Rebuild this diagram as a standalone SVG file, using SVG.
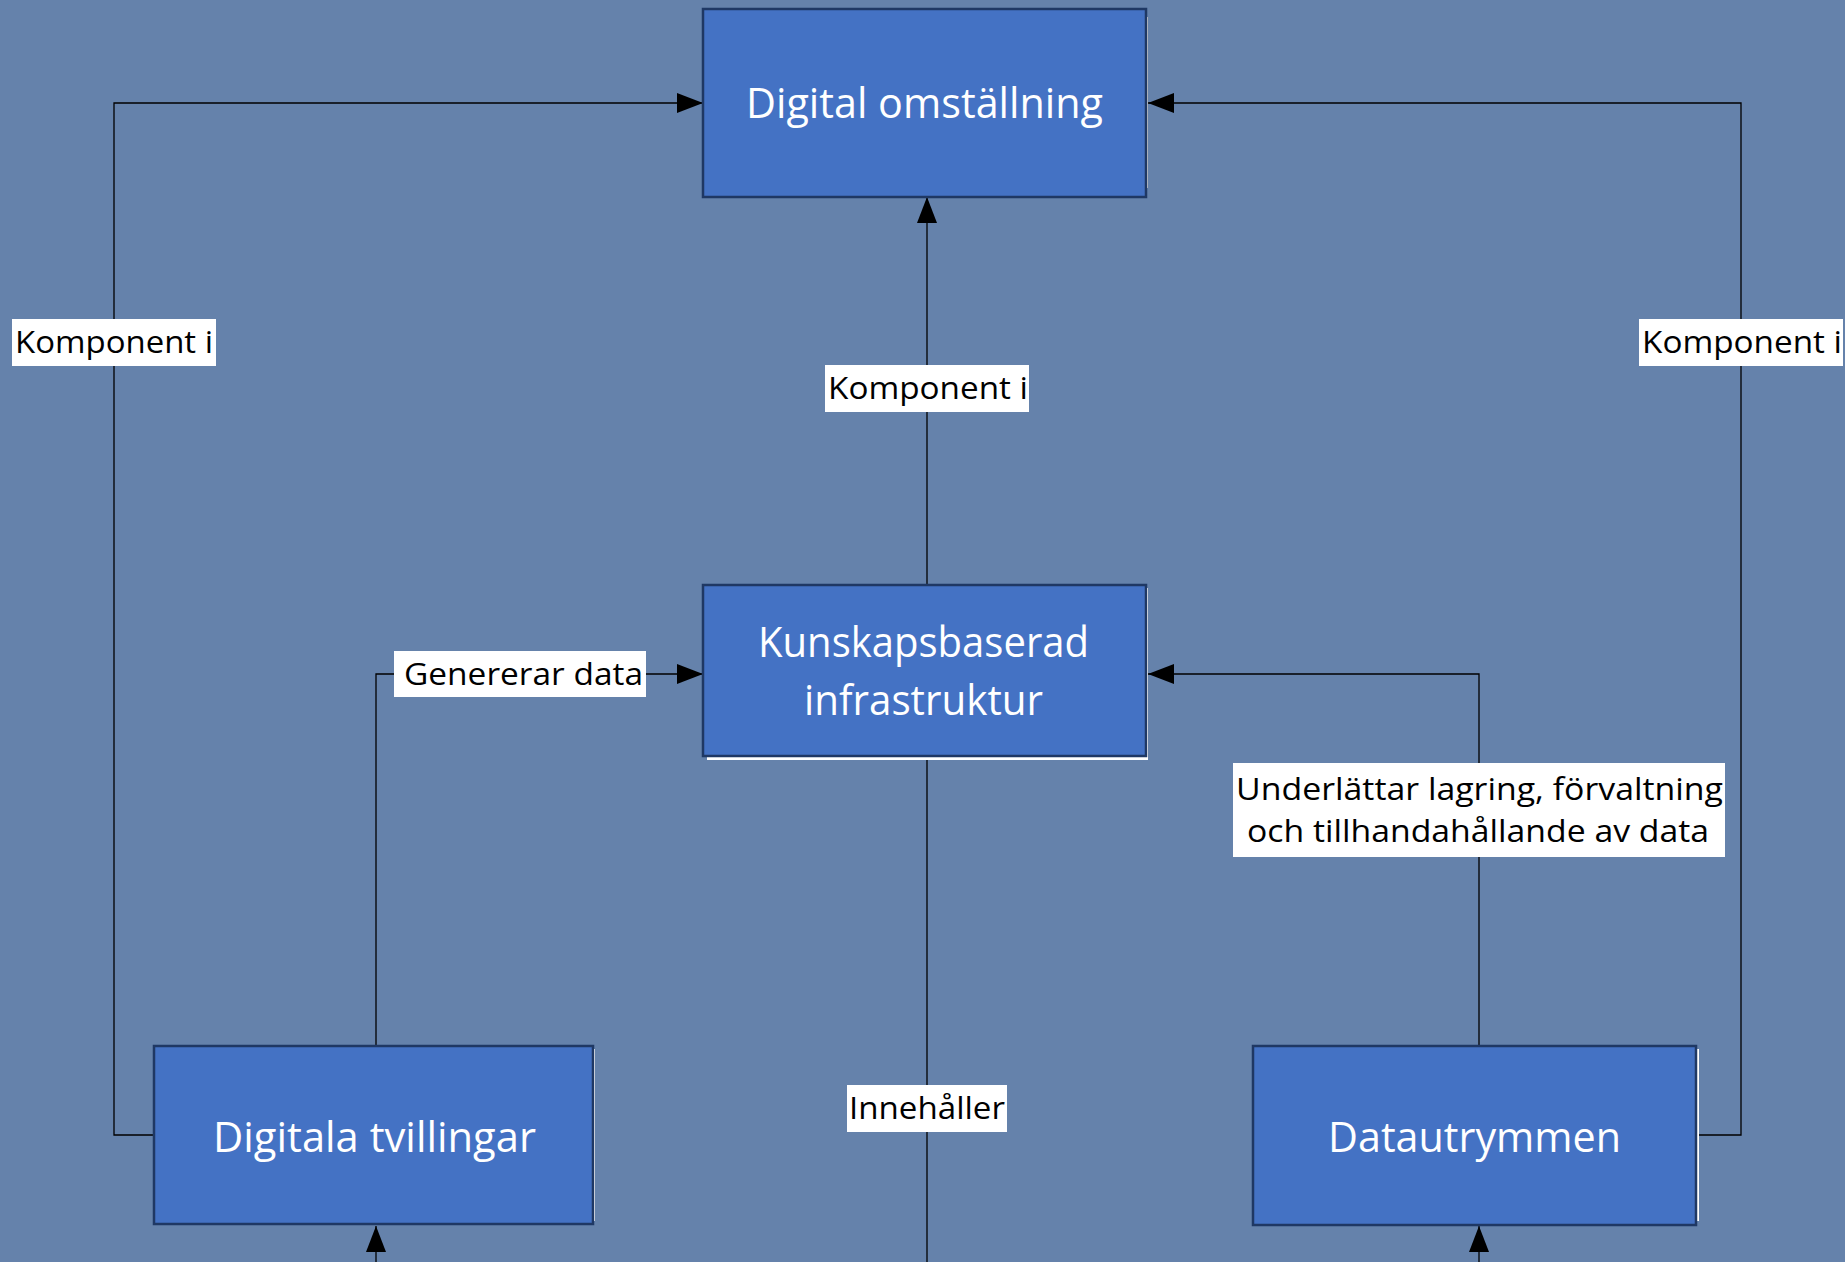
<svg xmlns="http://www.w3.org/2000/svg" width="1845" height="1262" viewBox="0 0 1845 1262">
<defs>
<style>
.box{fill:#4472C4;stroke:#1F3864;stroke-width:2.5}
.shadow{fill:#FFFFFF}
.shadow2{fill:#D9D9D9}
.btext{font-family:"Open Sans","Noto Sans","DejaVu Sans",sans-serif;font-size:42px;fill:#FFFFFF;text-anchor:middle}
.conn{fill:none;stroke:#000000;stroke-width:1.3}
.lbg{fill:#FFFFFF}
.ltext{font-family:"Open Sans","Noto Sans","DejaVu Sans",sans-serif;font-size:31px;fill:#000000}
</style>
<marker id="arr" markerUnits="userSpaceOnUse" markerWidth="26" markerHeight="20" refX="26" refY="10" orient="auto">
<path d="M0,0 L26,10 L0,20 Z" fill="#000000"/>
</marker>
</defs>
<rect width="1845" height="1262" fill="#6582AB"/>
<g id="connectors">
<path class="conn" d="M154,1135 H114 V103 H703" marker-end="url(#arr)"/>
<path class="conn" d="M1697,1135 H1741 V103 H1148" marker-end="url(#arr)"/>
<path class="conn" d="M927,585 V197" marker-end="url(#arr)"/>
<path class="conn" d="M927,759 V1262"/>
<path class="conn" d="M376,1046 V674 H703" marker-end="url(#arr)"/>
<path class="conn" d="M1479,1046 V674 H1148" marker-end="url(#arr)"/>
<path class="conn" d="M376,1262 V1226" marker-end="url(#arr)"/>
<path class="conn" d="M1479,1262 V1226" marker-end="url(#arr)"/>
</g>
<g id="node-digital-omstallning">
<rect class="shadow2" x="706" y="17" width="442" height="171"/>
<rect class="box" x="703" y="9" width="443" height="188"/>
<text class="btext" x="924.5" y="118" textLength="357" lengthAdjust="spacingAndGlyphs">Digital omställning</text>
</g>
<g id="node-kunskapsbaserad-infrastruktur">
<rect class="shadow" x="707" y="588" width="441" height="172"/>
<rect class="box" x="703" y="585" width="443" height="171"/>
<text class="btext" x="923.5" y="657" textLength="331" lengthAdjust="spacingAndGlyphs">Kunskapsbaserad</text>
<text class="btext" x="923.5" y="715" textLength="239" lengthAdjust="spacingAndGlyphs">infrastruktur</text>
</g>
<g id="node-digitala-tvillingar">
<rect class="shadow" x="158" y="1049" width="437" height="172"/>
<rect class="box" x="154" y="1046" width="439" height="178"/>
<text class="btext" x="374.5" y="1152" textLength="323" lengthAdjust="spacingAndGlyphs">Digitala tvillingar</text>
</g>
<g id="node-datautrymmen">
<rect class="shadow" x="1257" y="1049" width="442" height="172"/>
<rect class="box" x="1253" y="1046" width="443" height="179"/>
<text class="btext" x="1474.5" y="1152" textLength="293" lengthAdjust="spacingAndGlyphs">Datautrymmen</text>
</g>
<g id="labels">
<rect class="lbg" x="12" y="319" width="204" height="47"/>
<text class="ltext" x="15" y="353" textLength="198" lengthAdjust="spacingAndGlyphs">Komponent i</text>
<rect class="lbg" x="1639" y="319" width="204" height="47"/>
<text class="ltext" x="1642" y="353" textLength="200" lengthAdjust="spacingAndGlyphs">Komponent i</text>
<rect class="lbg" x="825" y="365" width="204" height="47"/>
<text class="ltext" x="828" y="399" textLength="200" lengthAdjust="spacingAndGlyphs">Komponent i</text>
<rect class="lbg" x="394" y="651" width="252" height="46"/>
<text class="ltext" x="404" y="685" textLength="239" lengthAdjust="spacingAndGlyphs">Genererar data</text>
<rect class="lbg" x="1233" y="763" width="492" height="94"/>
<text class="ltext" x="1236" y="800" textLength="487" lengthAdjust="spacingAndGlyphs">Underlättar lagring, förvaltning</text>
<text class="ltext" x="1247" y="842" textLength="462" lengthAdjust="spacingAndGlyphs">och tillhandahållande av data</text>
<rect class="lbg" x="847" y="1085" width="160" height="47"/>
<text class="ltext" x="849" y="1119" textLength="156" lengthAdjust="spacingAndGlyphs">Innehåller</text>
</g>
</svg>
